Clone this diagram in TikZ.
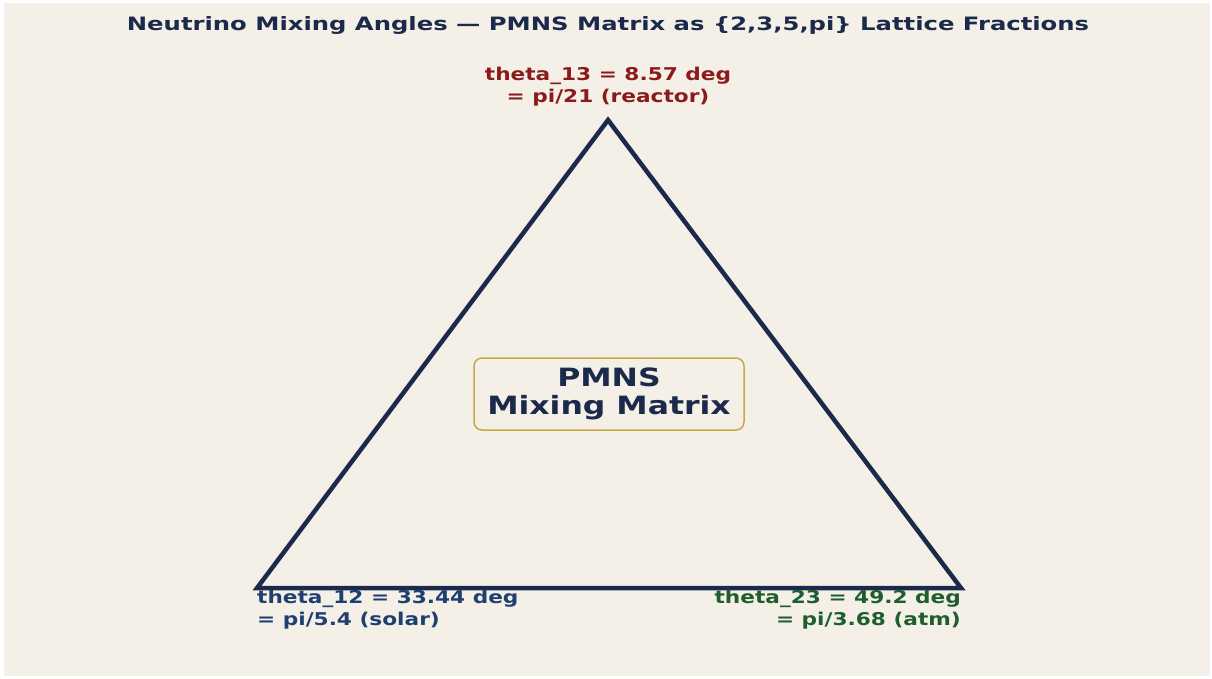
\documentclass[tikz,border=0pt]{standalone}
\usepackage{fontspec}
\setmainfont{DejaVu Sans}
\newfontfamily\titlefont{DejaVu Sans}[FakeStretch=1.32]
\newfontfamily\labelfont{DejaVu Sans}[FakeStretch=1.23]
\newfontfamily\boxfont{DejaVu Sans}[FakeStretch=1.25]
\definecolor{bg}{HTML}{F4EFE7}
\definecolor{navy}{HTML}{1B2A4A}
\definecolor{lred}{HTML}{8B1A1A}
\definecolor{lblue}{HTML}{1F3F70}
\definecolor{lgreen}{HTML}{1E5E2E}
\definecolor{gold}{HTML}{C9A84C}
\begin{document}
\begin{tikzpicture}[x=1pt,y=-1pt,
  lbl/.style={font=\labelfont\bfseries\fontsize{17.6}{21.5}\selectfont, inner sep=0pt},
  edge/.style={draw=navy, line width=4.5pt}]
\useasboundingbox (0,0) rectangle (1212,678);
\fill[white] (0,0) rectangle (1212,678);
\fill[bg] (4,3) rectangle (1210,676);
\node[font=\titlefont\bfseries\fontsize{18.4}{20}\selectfont, text=navy] (title) at (608,25) {Neutrino Mixing Angles — PMNS Matrix as \{2,3,5,pi\} Lattice Fractions};
\coordinate (A) at (608,120);
\coordinate (B) at (257,588);
\coordinate (C) at (961,588);
\draw[edge] (A) -- (B) -- (C) -- cycle;
\node[lbl, text=lred, align=center, anchor=south] (t13) at (608,106) {theta\_13 = 8.57 deg\\= pi/21 (reactor)};
\node[lbl, text=lblue, align=left, anchor=north west] (t12) at (257,590) {theta\_12 = 33.44 deg\\= pi/5.4 (solar)};
\node[lbl, text=lgreen, align=right, anchor=north east] (t23) at (961,590) {theta\_23 = 49.2 deg\\= pi/3.68 (atm)};
\node[draw=gold, line width=1.5pt, fill=bg, rounded corners=8pt, minimum width=270pt, minimum height=72pt, align=center, text=navy, font=\boxfont\bfseries\fontsize{25.2}{28}\selectfont, inner sep=0pt] (pmns) at (609,394) {PMNS\\Mixing Matrix};
\end{tikzpicture}
\end{document}
